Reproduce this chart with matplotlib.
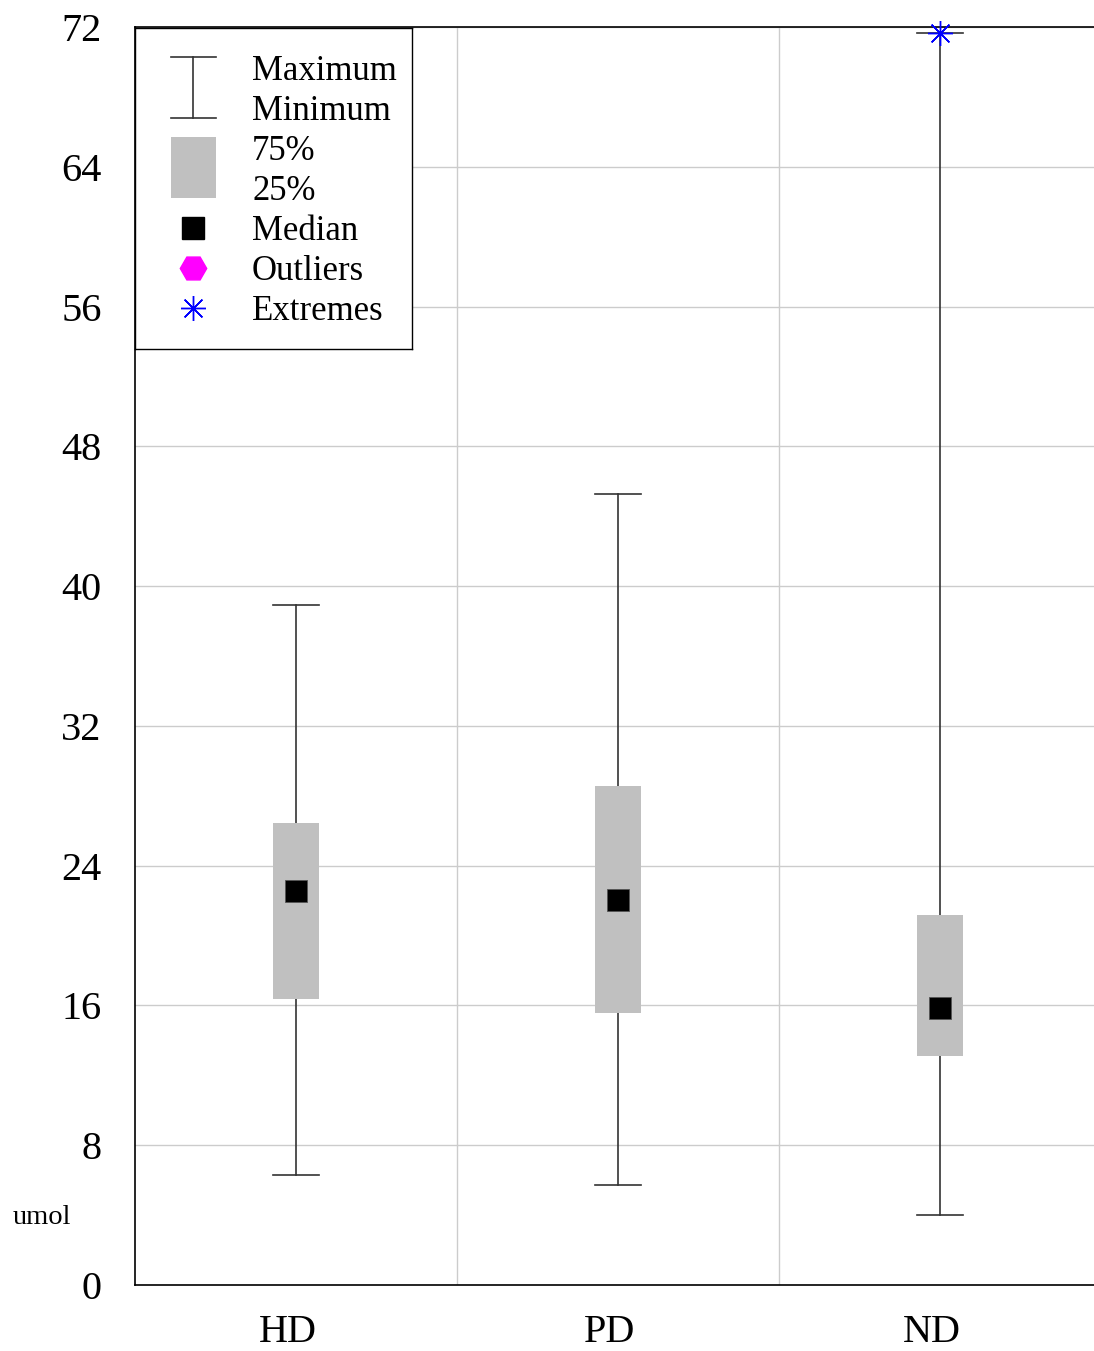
import matplotlib
matplotlib.use("Agg")
import matplotlib.pyplot as plt
from matplotlib.patches import Rectangle
from matplotlib.transforms import ScaledTranslation

categories = ["HD", "PD", "ND"]
maximum = [38.93, 45.25, 71.66]
q3 = [26.46, 28.58, 21.19]
median = [22.57, 22.01, 15.83]
q1 = [16.36, 15.56, 13.08]
minimum = [6.30, 5.73, 4.01]
extremes_x = [2]
extremes_y = [71.66]
yticks = [0, 8, 16, 24, 32, 40, 48, 56, 64, 72]

plt.rcParams['font.family'] = ['Liberation Serif', 'DejaVu Serif']

W, H = 1094, 1351
fig = plt.figure(figsize=(W / 100, H / 100), dpi=100)
ax = fig.add_axes([135 / W, (H - 1285) / H, (1101 - 135) / W, (1285 - 27) / H])

ax.set_xlim(-0.5, 2.5)
ax.set_ylim(0, 72)
ax.set_yticks(yticks)
ax.set_yticklabels([str(t) for t in yticks])
ax.set_xticks(range(len(categories)))
ax.set_xticklabels(categories)
ax.set_xticks([0.5, 1.5], minor=True)
ax.tick_params(axis='both', which='both', length=0, labelsize=29)
ax.tick_params(axis='y', pad=24)
ax.tick_params(axis='x', pad=21)
for lbl in ax.get_xticklabels():
    lbl.set_transform(lbl.get_transform() + ScaledTranslation(-8 / 100, 0, fig.dpi_scale_trans))

ax.grid(True, axis='y', which='major', color='#cccccc', linewidth=1.0)
ax.grid(True, axis='x', which='minor', color='#cccccc', linewidth=1.0)
ax.set_axisbelow(True)
for s in ['left', 'bottom', 'top']:
    ax.spines[s].set_color('black')
    ax.spines[s].set_linewidth(1.2)
ax.spines['right'].set_visible(False)

bw = 0.14
for i in range(len(categories)):
    ax.plot([i, i], [minimum[i], maximum[i]], color='#333333', lw=1.2, zorder=2)
    ax.plot([i - bw / 2, i + bw / 2], [maximum[i]] * 2, color='#333333', lw=1.2, zorder=2)
    ax.plot([i - bw / 2, i + bw / 2], [minimum[i]] * 2, color='#333333', lw=1.2, zorder=2)
    ax.add_patch(Rectangle((i - bw / 2, q1[i]), bw, q3[i] - q1[i], facecolor='#c0c0c0',
                           edgecolor='none', zorder=3))
ax.plot(range(len(categories)), median, linestyle='none', marker='s', markersize=16.5,
        markerfacecolor='black', markeredgecolor='#555555', markeredgewidth=0.6, zorder=4)
ax.plot(extremes_x, extremes_y, linestyle='none', marker=(8, 2, 0), markersize=18,
        color='blue', markeredgewidth=1.0, zorder=5, clip_on=False)

# y-axis unit label
fig.text(42 / W, 1 - 1217 / H, 'umol', fontsize=20.5, ha='center', va='center')

# Legend drawn as an inset panel
lx0, lx1, ly0, ly1 = 135, 412, 28, 349
lg = fig.add_axes([lx0 / W, (H - ly1) / H, (lx1 - lx0) / W, (ly1 - ly0) / H])
lg.set_xlim(0, lx1 - lx0)
lg.set_ylim(ly1 - ly0, 0)
lg.set_xticks([])
lg.set_yticks([])
for s in lg.spines.values():
    s.set_color('black')
    s.set_linewidth(1.0)
lg.set_zorder(10)
cx = 58
lg.plot([cx, cx], [29, 90], color='#333333', lw=1.2)
lg.plot([cx - 22.5, cx + 22.5], [29, 29], color='#333333', lw=1.2)
lg.plot([cx - 22.5, cx + 22.5], [90, 90], color='#333333', lw=1.2)
lg.add_patch(Rectangle((cx - 22.5, 109), 45, 61, facecolor='#c0c0c0', edgecolor='none'))
lg.plot([cx], [200], marker='s', markersize=16.5, color='black', linestyle='none')
lg.plot([cx], [240], marker='H', markersize=19, color='#ff00ff', linestyle='none')
lg.plot([cx], [280], marker=(8, 2, 0), markersize=18, color='blue', markeredgewidth=1.0,
        linestyle='none')
labels = ['Maximum', 'Minimum', '75%', '25%', 'Median', 'Outliers', 'Extremes']
for k, t in enumerate(labels):
    lg.text(117, 52 + 40 * k, t, fontsize=25, ha='left', va='baseline')

fig.savefig('out.png', dpi=100)
